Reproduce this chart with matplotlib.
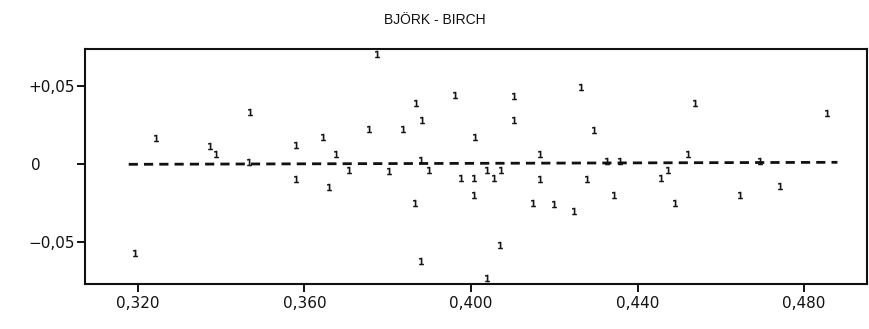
import matplotlib
matplotlib.use("Agg")
import matplotlib.pyplot as plt
from matplotlib.transforms import ScaledTranslation

plt.rcParams['font.family'] = ['DejaVu Sans']

title = "BJÖRK - BIRCH"

x_vals = [0.3244, 0.3470, 0.3374, 0.3388, 0.3468, 0.3580, 0.3644, 0.3676, 0.3706, 0.3580,
          0.3658, 0.3194, 0.3774, 0.3962, 0.4104, 0.4263, 0.3867, 0.3882, 0.4104, 0.3756,
          0.3836, 0.4295, 0.4010, 0.4166, 0.3880, 0.4326, 0.3803, 0.3898, 0.4039, 0.4071,
          0.3977, 0.4008, 0.4055, 0.4166, 0.4278, 0.4008, 0.4343, 0.3866, 0.4150, 0.4199,
          0.4247, 0.4070, 0.3881, 0.4038, 0.4537, 0.4854, 0.4520, 0.4359, 0.4473, 0.4456,
          0.4695, 0.4743, 0.4647, 0.4489]
y_vals = [0.0168, 0.0335, 0.0114, 0.0066, 0.0014, 0.0119, 0.0175, 0.0061, -0.0042, -0.0100,
          -0.0147, -0.0571, 0.0708, 0.0442, 0.0436, 0.0494, 0.0393, 0.0281, 0.0280, 0.0222,
          0.0226, 0.0217, 0.0170, 0.0066, 0.0024, 0.0018, -0.0046, -0.0042, -0.0040, -0.0040,
          -0.0091, -0.0091, -0.0089, -0.0095, -0.0095, -0.0198, -0.0201, -0.0252, -0.0252, -0.0256,
          -0.0301, -0.0522, -0.0625, -0.0734, 0.0393, 0.0325, 0.0066, 0.0018, -0.0040, -0.0091,
          0.0018, -0.0143, -0.0201, -0.0254]

fit_x = [0.3178, 0.4880]
fit_y = [-0.0003, 0.0010]

x_ticks = [0.320, 0.360, 0.400, 0.440, 0.480]
x_ticklabels = ["0,320", "0,360", "0,400", "0,440", "0,480"]
y_ticks = [0.05, 0.0, -0.05]
y_ticklabels = ["+0,05", "0", "\u22120,05"]

fig = plt.figure(figsize=(8.69, 3.29), dpi=100)
ax = fig.add_axes([85/869, 1-284/329, (867-85)/869, (284-49)/329])

ax.plot(fit_x, fit_y, color='#111111', lw=2.0, dashes=(3.3, 2.2))
ax.scatter(x_vals, y_vals, marker='$1$', s=24, color='#111111', linewidths=0.5, zorder=3)

ax.set_xlim(0.3073, 0.4951)
ax.set_ylim(-0.0773, 0.0739)

ax.set_xticks(x_ticks)
ax.set_xticklabels(x_ticklabels)
ax.set_yticks(y_ticks)
ax.set_yticklabels(y_ticklabels)
ax.tick_params(axis='both', direction='out', length=6, width=1.4, labelsize=11, colors='#111111')
ax.tick_params(axis='x', pad=2.5)
ax.tick_params(axis='y', pad=1.5)

for sp in ax.spines.values():
    sp.set_linewidth(1.5)
    sp.set_color('#111111')

for lab in ax.get_yticklabels():
    if lab.get_text() == "0":
        lab.set_transform(lab.get_transform() + ScaledTranslation(-0.34, 0, fig.dpi_scale_trans))

fig.text(435/869, 1-20/329, title, ha='center', va='center', fontsize=10,
         family='Liberation Sans', color='#111111')

fig.savefig("out.png", dpi=100)
